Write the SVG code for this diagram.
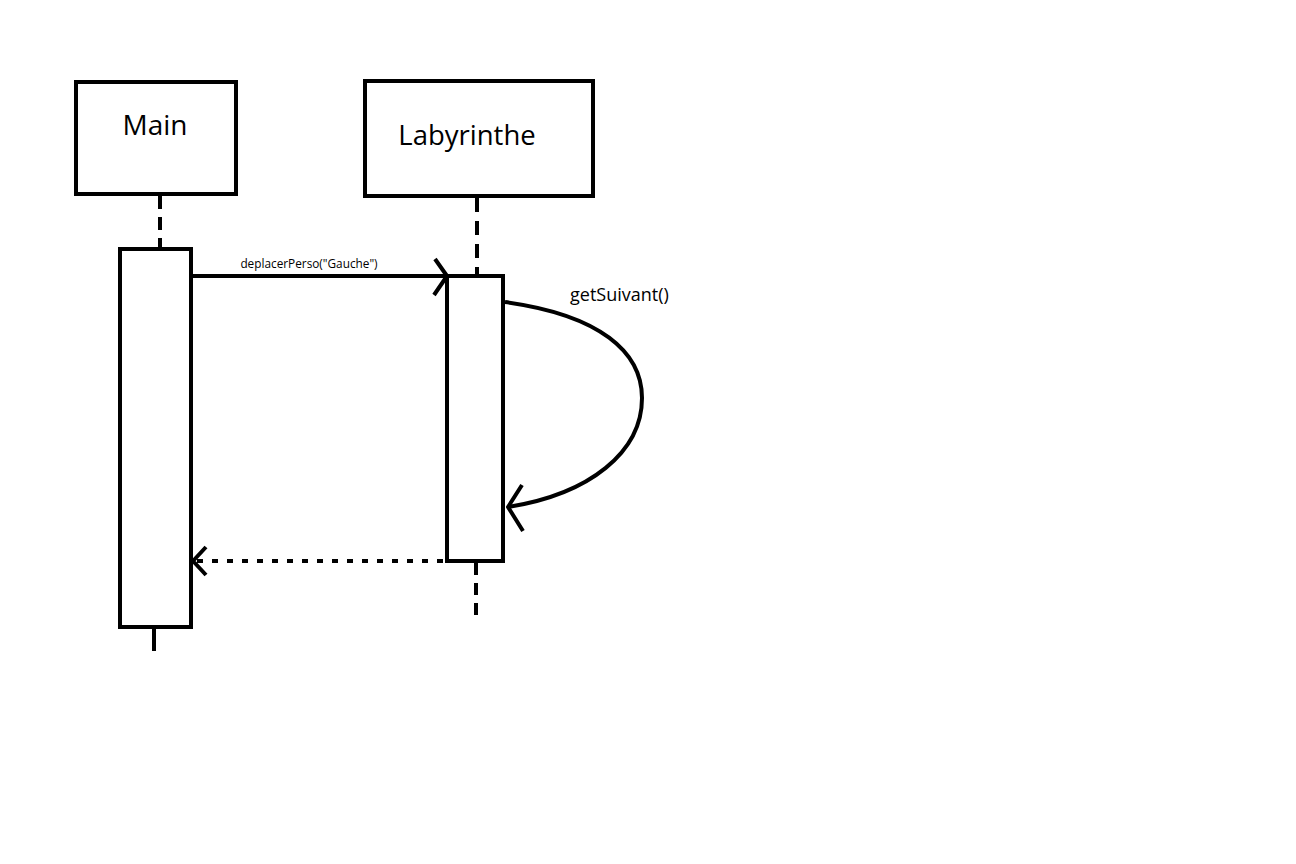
<svg xmlns="http://www.w3.org/2000/svg" width="1296" height="864" viewBox="0 0 1296 864">
<style>
.b{fill:#fff;stroke:#000;stroke-width:4}
.l{fill:none;stroke:#000;stroke-width:4}
.t{font-family:"Open Sans","Liberation Sans",sans-serif;fill:#000}
</style>
<rect width="1296" height="864" fill="#fff"/>
<g id="main">
<rect class="b" x="76" y="82" width="160" height="112"/>
<text class="t" x="155" y="135" font-size="28" text-anchor="middle">Main</text>
<line class="l" x1="160" y1="196" x2="160" y2="248" stroke-dasharray="13,8"/>
<rect class="b" x="120" y="249" width="71" height="378"/>
<line class="l" x1="154" y1="629" x2="154" y2="651"/>
</g>
<g id="labyrinthe">
<rect class="b" x="365" y="81" width="228" height="115"/>
<text class="t" x="467" y="145" font-size="27.5" text-anchor="middle">Labyrinthe</text>
<line class="l" x1="477" y1="198" x2="477" y2="275" stroke-dasharray="14,9"/>
<rect class="b" x="447" y="276" width="56" height="285"/>
<line class="l" x1="476" y1="563" x2="476" y2="615" stroke-dasharray="12,8"/>
</g>
<g id="connectors">
<line class="l" x1="191" y1="276" x2="447" y2="276"/>
<polyline class="l" points="435,259 447,276 434,295" stroke-linejoin="round"/>
<text class="t" x="309" y="268" font-size="11.8" text-anchor="middle">deplacerPerso("Gauche")</text>
<path class="l" d="M505,302 C600,315 642,352 642,398 C642,452 590,494 508,507"/>
<polyline class="l" points="522,485 508,507 523,531" stroke-linejoin="round"/>
<text class="t" x="570" y="301" font-size="18">getSuivant()</text>
<line class="l" x1="443" y1="561" x2="196" y2="561" stroke-dasharray="6,9"/>
<polyline class="l" points="206,547 193,561 206,575" stroke-linejoin="round"/>
</g>
</svg>
